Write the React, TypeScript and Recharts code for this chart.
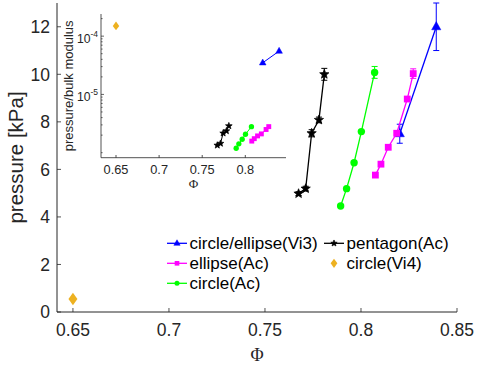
import React from 'react';
import { ScatterChart, Scatter, XAxis, YAxis, ErrorBar } from 'recharts';

// packing fraction, pressure [kPa], error, pressure/bulk modulus (inset)
const vi3Phi = [0.8202, 0.8392];
const vi3Pressure = [7.5, 12.0];
const vi3Err = [0.4, 1.0];
const vi3Ratio = [3.49e-5, 5.54e-5];

const ellipseAcPhi = [0.8075, 0.8104, 0.8142, 0.8186, 0.8241, 0.8272];
const ellipseAcPressure = [5.76, 6.22, 6.93, 7.52, 8.96, 10.03];
const ellipseAcErr = [0, 0, 0, 0, 0, 0.2];
const ellipseAcRatio = [1.58e-6, 1.74e-6, 1.94e-6, 2.1e-6, 2.5e-6, 2.8e-6];

const circleAcPhi = [0.7894, 0.7925, 0.7964, 0.8002, 0.8071];
const circleAcPressure = [4.46, 5.19, 6.28, 7.59, 10.08];
const circleAcErr = [0, 0, 0, 0, 0.25];
const circleAcRatio = [1.19e-6, 1.42e-6, 1.7e-6, 2.07e-6, 2.8e-6];

const pentagonAcPhi = [0.7675, 0.7712, 0.7743, 0.7781, 0.7809];
const pentagonAcPressure = [4.98, 5.19, 7.52, 8.08, 10.0];
const pentagonAcErr = [0.08, 0.1, 0.15, 0.12, 0.25];
const pentagonAcRatio = [1.34e-6, 1.44e-6, 2.16e-6, 2.36e-6, 2.88e-6];

const vi4Phi = [0.65];
const vi4Pressure = [0.55];
const vi4Ratio = [1.5e-4];

const phiTicks = [0.65, 0.7, 0.75, 0.8, 0.85];
const pressureTicks = [0, 2, 4, 6, 8, 10, 12];
const insetPhiTicks = [0.65, 0.7, 0.75, 0.8];
const ratioTicks = [
  1e-6, 2e-6, 3e-6, 4e-6, 5e-6, 6e-6, 7e-6, 8e-6, 9e-6,
  1e-5, 2e-5, 3e-5, 4e-5, 5e-5, 6e-5, 7e-5, 8e-5, 9e-5,
  1e-4, 2e-4,
];
const ratioLabels: Record<string, string> = { '0.00001': '-5', '0.0001': '-4' };

const AXIS = '#262626';
const FONT = '"Liberation Sans", Arial, sans-serif';
const SERIF = '"Liberation Serif", "DejaVu Serif", serif';

type Kind = 'triangle' | 'square' | 'circle' | 'star' | 'diamond';

const series = [
  { name: 'circle/ellipse(Vi3)', color: '#0000ff', kind: 'triangle' as Kind, phi: vi3Phi, p: vi3Pressure, err: vi3Err, ratio: vi3Ratio, line: true },
  { name: 'ellipse(Ac)', color: '#ff00ff', kind: 'square' as Kind, phi: ellipseAcPhi, p: ellipseAcPressure, err: ellipseAcErr, ratio: ellipseAcRatio, line: true },
  { name: 'circle(Ac)', color: '#00ff00', kind: 'circle' as Kind, phi: circleAcPhi, p: circleAcPressure, err: circleAcErr, ratio: circleAcRatio, line: true },
  { name: 'pentagon(Ac)', color: '#000000', kind: 'star' as Kind, phi: pentagonAcPhi, p: pentagonAcPressure, err: pentagonAcErr, ratio: pentagonAcRatio, line: true },
  { name: 'circle(Vi4)', color: '#edb120', kind: 'diamond' as Kind, phi: vi4Phi, p: vi4Pressure, err: null as number[] | null, ratio: vi4Ratio, line: false },
];

function Marker({ kind, cx, cy, color, s = 1 }: { kind: Kind; cx: number; cy: number; color: string; s?: number }) {
  if (cx == null || cy == null || isNaN(cx) || isNaN(cy)) return null;
  switch (kind) {
    case 'triangle':
      return (
        <polygon
          points={`${cx},${cy - 5.2 * s} ${cx - 4.6 * s},${cy + 3 * s} ${cx + 4.6 * s},${cy + 3 * s}`}
          fill={color}
          stroke={color}
          strokeWidth={0.5}
        />
      );
    case 'square':
      return <rect x={cx - 3.4 * s} y={cy - 3.4 * s} width={6.8 * s} height={6.8 * s} fill={color} />;
    case 'circle':
      return <circle cx={cx} cy={cy} r={3.7 * s} fill={color} />;
    case 'diamond':
      return (
        <polygon
          points={`${cx},${cy - 6.2 * s} ${cx + 4.5 * s},${cy} ${cx},${cy + 6.2 * s} ${cx - 4.5 * s},${cy}`}
          fill={color}
        />
      );
    default: {
      const pts: string[] = [];
      for (let i = 0; i < 10; i++) {
        const r = (i % 2 === 0 ? 4.9 : 2.1) * s;
        const a = -Math.PI / 2 + (i * Math.PI) / 5;
        pts.push(`${cx + r * Math.cos(a)},${cy + r * Math.sin(a)}`);
      }
      return <polygon points={pts.join(' ')} fill={color} stroke={color} strokeWidth={0.7} />;
    }
  }
}

// inward ticks, matlab style
const bottomTick = (len: number, fs: number, dy: number, show = true) => (p: any) => (
  <g>
    <line x1={p.x} y1={p.y} x2={p.x} y2={p.y - len} stroke={AXIS} strokeWidth={0.8} />
    {show && (
      <text x={p.x} y={p.y + dy} textAnchor="middle" fontSize={fs} fontFamily={FONT} fill={AXIS}>
        {String(p.payload.value)}
      </text>
    )}
  </g>
);
const topTick = (len: number) => (p: any) => (
  <line x1={p.x} y1={p.y} x2={p.x} y2={p.y + len} stroke={AXIS} strokeWidth={0.8} />
);
const leftTick = (p: any) => (
  <g>
    <line x1={p.x} y1={p.y} x2={p.x + 4} y2={p.y} stroke={AXIS} strokeWidth={0.8} />
    <text x={p.x - 7} y={p.y + 6.2} textAnchor="end" fontSize={17.5} fontFamily={FONT} fill={AXIS}>
      {String(p.payload.value)}
    </text>
  </g>
);
const rightTick = (p: any) => (
  <line x1={p.x} y1={p.y} x2={p.x - 4} y2={p.y} stroke={AXIS} strokeWidth={0.8} />
);
const logLeftTick = (p: any) => {
  const lab = ratioLabels[String(p.payload.value)];
  return (
    <g>
      <line x1={p.x} y1={p.y} x2={p.x + (lab ? 3 : 1.6)} y2={p.y} stroke={AXIS} strokeWidth={0.7} />
      {lab && (
        <text x={p.x - 3} y={p.y + 6.4} textAnchor="end" fontSize={12.2} fontFamily={FONT} fill={AXIS}>
          <tspan>10</tspan>
          <tspan dy={-6} fontSize={8.5}>{lab}</tspan>
        </text>
      )}
    </g>
  );
};
const logRightTick = (p: any) => {
  const lab = ratioLabels[String(p.payload.value)];
  return <line x1={p.x} y1={p.y} x2={p.x - (lab ? 3 : 1.6)} y2={p.y} stroke={AXIS} strokeWidth={0.7} />;
};

const legendRows = [
  { idx: 0, x: 167, y: 243.3 },
  { idx: 1, x: 167, y: 263.3 },
  { idx: 2, x: 167, y: 283.3 },
  { idx: 3, x: 324, y: 243.3 },
  { idx: 4, x: 324, y: 263.3 },
];

export default function App() {
  return (
    <div style={{ position: 'absolute', left: 0, top: 0, width: 477, height: 371, background: '#fff' }}>
      <div style={{ position: 'absolute', left: 0, top: 0 }}>
        <ScatterChart width={477} height={371} margin={{ top: 3, right: 20, left: 0, bottom: 0 }}>
          <XAxis
            dataKey="x"
            type="number"
            domain={[0.6417, 0.85]}
            ticks={phiTicks}
            interval={0}
            allowDataOverflow
            height={59}
            tickSize={0}
            tickMargin={0}
            tickLine={false}
            axisLine={{ stroke: AXIS }}
            tick={bottomTick(4, 17.5, 24)}
            label={{ value: 'Φ', position: 'insideBottom', offset: 10, fontSize: 18, fontFamily: SERIF, fill: AXIS }}
          />
          <XAxis
            xAxisId="top"
            orientation="top"
            dataKey="x"
            type="number"
            domain={[0.6417, 0.85]}
            ticks={phiTicks}
            interval={0}
            allowDataOverflow
            height={0}
            tickSize={0}
            tickMargin={0}
            tickLine={false}
            axisLine={{ stroke: AXIS }}
            tick={topTick(4)}
          />
          <YAxis
            dataKey="y"
            type="number"
            domain={[0, 13]}
            ticks={pressureTicks}
            interval={0}
            allowDataOverflow
            width={57}
            tickSize={0}
            tickMargin={0}
            tickLine={false}
            axisLine={{ stroke: AXIS }}
            tick={leftTick}
            label={{
              value: 'pressure [kPa]',
              angle: -90,
              position: 'insideLeft',
              offset: 16,
              textAnchor: 'middle',
              fontSize: 20.5,
              fontFamily: FONT,
              fill: AXIS,
            }}
          />
          <YAxis
            yAxisId="right"
            orientation="right"
            dataKey="y"
            type="number"
            domain={[0, 13]}
            ticks={pressureTicks}
            interval={0}
            allowDataOverflow
            width={0}
            tickSize={0}
            tickMargin={0}
            tickLine={false}
            axisLine={{ stroke: '#555', strokeWidth: 1.4 }}
            tick={rightTick}
          />
          {series.map(s => (
            <Scatter
              key={s.name}
              name={s.name}
              data={s.phi.map((x, i) => ({ x, y: s.p[i], err: s.err ? s.err[i] : 0 }))}
              fill={s.color}
              line={s.line ? { stroke: s.color, strokeWidth: 1.3 } : false}
              shape={(p: any) => <Marker kind={s.kind} cx={p.cx} cy={p.cy} color={s.color} />}
              isAnimationActive={false}
            >
              {s.err && <ErrorBar dataKey="err" direction="y" width={3} stroke={s.color} strokeWidth={1} />}
            </Scatter>
          ))}
        </ScatterChart>
      </div>

      {/* inset: pressure / bulk modulus on log axis */}
      <div style={{ position: 'absolute', left: 60, top: 0 }}>
        <ScatterChart width={230} height={195} margin={{ top: 14, right: 4, left: 0, bottom: 0 }}>
          <XAxis
            dataKey="x"
            type="number"
            domain={[0.6326, 0.8472]}
            ticks={insetPhiTicks}
            interval={0}
            allowDataOverflow
            height={37.3}
            tickSize={0}
            tickMargin={0}
            tickLine={false}
            axisLine={{ stroke: AXIS, strokeWidth: 0.8 }}
            tick={bottomTick(2.7, 12.8, 16)}
            label={{ value: 'Φ', position: 'insideBottom', offset: 7, fontSize: 13, fontFamily: SERIF, fill: AXIS }}
          />
          <XAxis
            xAxisId="top"
            orientation="top"
            dataKey="x"
            type="number"
            domain={[0.6326, 0.8472]}
            ticks={insetPhiTicks}
            interval={0}
            allowDataOverflow
            height={0}
            tickSize={0}
            tickMargin={0}
            tickLine={false}
            axisLine={{ stroke: AXIS, strokeWidth: 0.8 }}
            tick={topTick(2.7)}
          />
          <YAxis
            dataKey="y"
            type="number"
            scale="log"
            domain={[8.2e-7, 2.4e-4]}
            ticks={ratioTicks}
            interval={0}
            allowDataOverflow
            width={41}
            tickSize={0}
            tickMargin={0}
            tickLine={false}
            axisLine={{ stroke: AXIS, strokeWidth: 0.8 }}
            tick={logLeftTick}
            label={{
              value: 'pressure/bulk modulus',
              angle: -90,
              position: 'insideLeft',
              offset: 8,
              textAnchor: 'middle',
              fontSize: 13,
              fontFamily: FONT,
              fill: AXIS,
            }}
          />
          <YAxis
            yAxisId="right"
            orientation="right"
            dataKey="y"
            type="number"
            scale="log"
            domain={[8.2e-7, 2.4e-4]}
            ticks={ratioTicks}
            interval={0}
            allowDataOverflow
            width={0}
            tickSize={0}
            tickMargin={0}
            tickLine={false}
            axisLine={{ stroke: AXIS, strokeWidth: 0.8 }}
            tick={logRightTick}
          />
          {series.map(s => (
            <Scatter
              key={s.name}
              name={s.name}
              data={s.phi.map((x, i) => ({ x, y: s.ratio[i] }))}
              fill={s.color}
              line={s.line ? { stroke: s.color, strokeWidth: 1 } : false}
              shape={(p: any) => <Marker kind={s.kind} cx={p.cx} cy={p.cy} color={s.color} s={0.72} />}
              isAnimationActive={false}
            />
          ))}
        </ScatterChart>
      </div>

      {/* legend, no box */}
      <svg width={477} height={371} style={{ position: 'absolute', left: 0, top: 0, pointerEvents: 'none' }}>
        {legendRows.map(r => {
          const s = series[r.idx];
          return (
            <g key={s.name}>
              {s.line && <line x1={r.x} y1={r.y} x2={r.x + 20} y2={r.y} stroke={s.color} strokeWidth={1.3} />}
              <Marker kind={s.kind} cx={r.x + 10} cy={r.y} color={s.color} s={s.kind === 'diamond' ? 0.75 : 0.68} />
              <text x={r.x + 22.5} y={r.y + 6} fontSize={17} fontFamily={FONT} fill="#000">
                {s.name}
              </text>
            </g>
          );
        })}
      </svg>
    </div>
  );
}
